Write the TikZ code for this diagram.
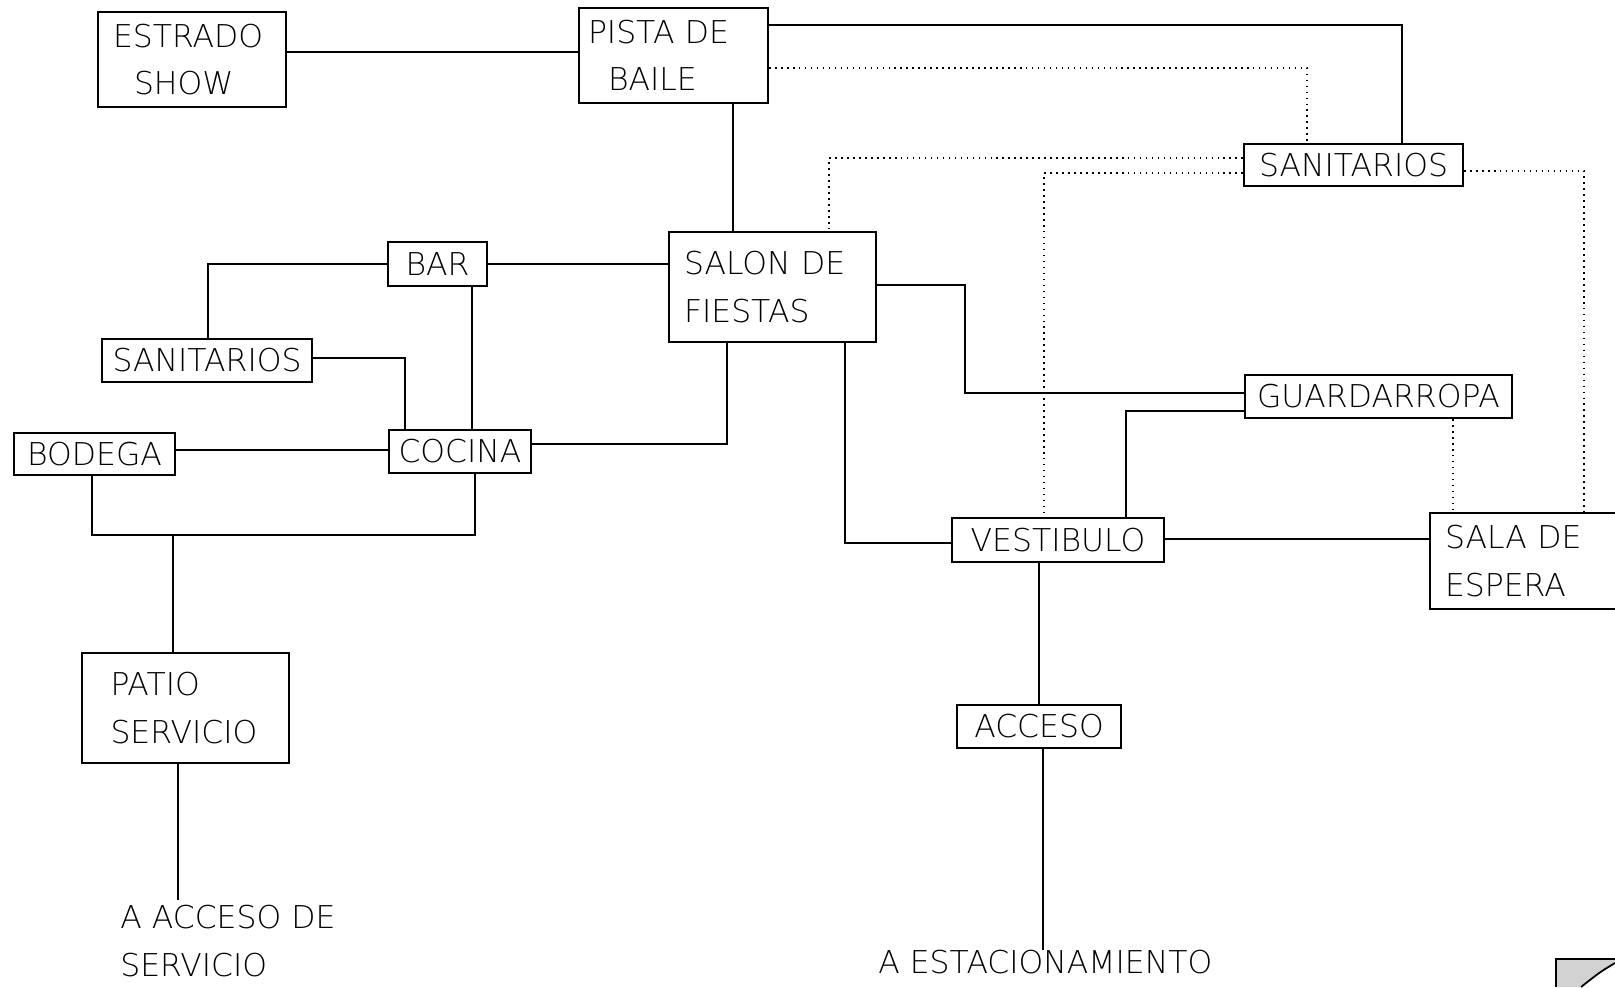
\documentclass[tikz,border=0pt]{standalone}
\usepackage{fontspec}
\IfFontExistsTF{DejaVuSans-ExtraLight.ttf}
  {\setmainfont{DejaVuSans-ExtraLight.ttf}}
  {\setmainfont{DejaVu Sans}}
\newcommand{\roomfont}{\fontsize{17.9pt}{27pt}\selectfont}

\begin{document}
\begin{tikzpicture}[x=0.02cm, y=-0.02cm,
    room/.style 2 args={draw, line width=1.2pt, inner sep=0pt, font=\roomfont,
      minimum width=#1, minimum height=#2},
    lbl/.style={inner sep=0pt, font=\roomfont, align=left, anchor=north west},
    link/.style={line width=1.1pt},
    aux/.style={line width=1.4pt, dash pattern=on 0.9pt off 2.5pt}]
  \useasboundingbox[fill=white] (0,0) rectangle (1615,987);

  % zona social
  \node[room={3.76cm}{1.90cm}, align=left, text width=3.16cm] (estrado) at (192,59.5) {ESTRADO\\\hspace*{0.42cm}SHOW};
  \node[room={3.78cm}{1.90cm}, align=left, text width=3.42cm] (pista) at (673.5,55.5) {PISTA DE\\\hspace*{0.40cm}BAILE};
  \node[room={4.14cm}{2.20cm}, align=left, text width=3.54cm] (salon) at (772.5,287) {SALON DE\\FIESTAS};
  \node[room={4.38cm}{0.84cm}] (sanr) at (1353.5,165) {SANITARIOS};
  \node[room={5.34cm}{0.86cm}] (guard) at (1378.5,396.5) {GUARDARROPA};
  \node[room={4.24cm}{0.88cm}] (vest) at (1058,540) {VESTIBULO};
  \node[room={4.00cm}{1.92cm}, align=left, text width=3.40cm] (sala) at (1530,561) {SALA DE\\ESPERA};
  \node[room={3.28cm}{0.86cm}] (acceso) at (1039,726.5) {ACCESO};

  % zona de servicio
  \node[room={1.98cm}{0.88cm}] (bar) at (437.5,264) {BAR};
  \node[room={4.20cm}{0.86cm}] (sanl) at (207,360.5) {SANITARIOS};
  \node[room={2.84cm}{0.86cm}] (cocina) at (460,451.5) {COCINA};
  \node[room={3.22cm}{0.84cm}] (bodega) at (94.5,454) {BODEGA};
  \node[room={4.14cm}{2.20cm}, align=left, text width=3.0cm] (patio) at (185.5,708) {PATIO\\SERVICIO};

  % salidas
  \node[lbl] (accserv) at (120,905) {A ACCESO DE\\SERVICIO};
  \node[lbl] (estac) at (878,950) {A ESTACIONAMIENTO};

  % relaciones directas
  \draw[link] (estrado.east |- 0,52) -- (pista.west |- 0,52);
  \draw[link] (pista.east |- 0,25) -| (sanr.north -| 1402,0);
  \draw[link] (pista.south -| 733,0) -- (salon.north -| 733,0);
  \draw[link] (bar.east) -- (bar.east -| salon.west);
  \draw[link] (bar.west) -| (sanl.north -| 208,0);
  \draw[link] (bar.south -| 472,0) -- (cocina.north -| 472,0);
  \draw[link] (sanl.east |- 0,358) -| (cocina.north -| 405,0);
  \draw[link] (bodega.east |- 0,450) -- (cocina.west |- 0,450);
  \draw[link] (cocina.east |- 0,444) -| (salon.south -| 727,0);
  \coordinate (jct) at (173,535);
  \draw[link] (bodega.south -| 92,0) |- (jct) -| (cocina.south -| 475,0);
  \draw[link] (jct) -- (patio.north -| jct);
  \draw[link, shorten >=0.1cm] (patio.south -| 178,0) -- (accserv.north -| 178,0);
  \draw[link] (salon.east |- 0,285) -| (965,393) -- (guard.west |- 965,393);
  \draw[link] (guard.west |- 0,411) -| (vest.north -| 1126,0);
  \draw[link] (salon.south -| 845,0) |- (vest.west |- 0,543);
  \draw[link] (vest.east |- 0,539) -- (sala.west |- 0,539);
  \draw[link] (vest.south -| 1039,0) -- (acceso.north -| 1039,0);
  \draw[link] (acceso.south -| 1043,0) -- (estac.north -| 1043,0);

  % relaciones indirectas
  \draw[aux] (pista.east |- 0,68) -| (sanr.north -| 1307,0);
  \draw[aux] (sanr.west |- 0,158) -| (salon.north -| 829,0);
  \draw[aux] (sanr.west |- 0,173) -| (vest.north -| 1044,0);
  \draw[aux] (sanr.east |- 0,171) -| (sala.north -| 1584,0);
  \draw[aux] (guard.south -| 1453,0) -- (sala.north -| 1453,0);

  % esquina doblada
  \fill[gray!35] (1556,959) -- (1615,959) -- (1615,963) .. controls (1600,972) .. (1581,987) -- (1556,987) -- cycle;
  \draw[line width=1pt] (1556,987) -- (1556,959) -- (1615,959);
  \draw[line width=1pt] (1581,987) .. controls (1600,972) .. (1615,963);
\end{tikzpicture}
\end{document}
